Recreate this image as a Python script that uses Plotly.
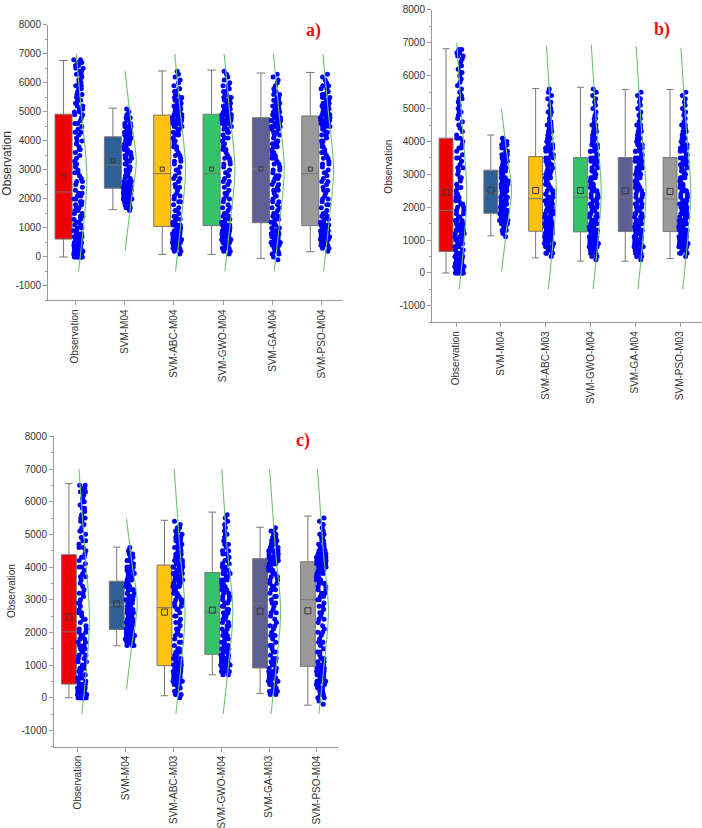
import plotly.graph_objects as go

# ---------------- data ----------------
cats_a = ["Observation", "SVM-M04", "SVM-ABC-M04", "SVM-GWO-M04", "SVM-GA-M04", "SVM-PSO-M04"]
cats_b = ["Observation", "SVM-M04", "SVM-ABC-M03", "SVM-GWO-M04", "SVM-GA-M04", "SVM-PSO-M03"]
cats_c = ["Observation", "SVM-M04", "SVM-ABC-M03", "SVM-GWO-M04", "SVM-GA-M03", "SVM-PSO-M04"]

# box statistics
a_q1 = [615, 2370, 1050, 1080, 1180, 1080]
a_med = [2240, 3165, 2870, 2870, 3040, 2870]
a_q3 = [4920, 4140, 4890, 4920, 4800, 4860]
a_lo = [0, 1630, 90, 90, -50, 180]
a_hi = [6770, 5130, 6410, 6440, 6340, 6360]
a_mean = [2750, 3320, 3030, 3030, 3040, 3030]

b_q1 = [655, 1816, 1270, 1250, 1260, 1260]
b_med = [1905, 2430, 2260, 2300, 2300, 2250]
b_q3 = [4100, 3127, 3540, 3510, 3510, 3510]
b_lo = [0, 1130, 460, 360, 360, 440]
b_hi = [6820, 4196, 5610, 5650, 5580, 5580]
b_mean = [2450, 2520, 2510, 2510, 2500, 2480]

c_q1 = [415, 2087, 980, 1327, 910, 960]
c_med = [2016, 2847, 2755, 2610, 2887, 3000]
c_q3 = [4377, 3566, 4060, 3830, 4255, 4160]
c_lo = [0, 1590, 60, 700, 130, -230]
c_hi = [6555, 4610, 5430, 5680, 5217, 5560]
c_mean = [2470, 2870, 2620, 2680, 2650, 2660]

# individual points, read as counts per 100-unit level starting at -500
BIN0 = -500
BINW = 100
a_pts = [
    "0000086655 4333222222 2222222211 1211211211 1121121121 1211222222 2212222122 233200",
    "0000000000 0000000000 0123578876 5322222233 3333433333 3222211000",
    "0000001234 5665433222 1211212112 1121121121 2112121222 3455554443 3222111111",
    "0000001233 4566543322 2121121211 1211211212 1121212122 2445555443 3222211111",
    "0000112234 5565432222 2121212121 2122121212 2212221222 3344444332 2221111110",
    "0000000123 4566654322 2112121121 1211211212 1212121222 3345555443 3322211110",
]
b_pts = [
    "0000076655 5433333333 3322222222 1211211211 2112112111 1111211121 1111112111 123200",
    "0000000000 0000001123 6787644444 4444433333 3332322000",
    "0000000000 1345665544 4333333333 3232323232 3323232222 2211211111 1100000000",
    "0000000001 2345665544 4333333332 3232323223 3232322222 2121111111 1100000000",
    "0000000001 2355665443 4433333323 2323232323 3232232222 2112111111 1000000000",
    "0000000000 1356665544 4433333322 3232323232 3223232222 2111211111 1000000000",
]
c_pts = [
    "0000098876 3322222222 2222222112 1211211211 1121121121 1212112112 2112121122 200000",
    "0000000000 0000000000 0356776554 3333434343 4343433322 2100000000",
    "0000012234 5555443322 2121212121 2122232323 3434343433 3332322211",
    "0000000000 0024566554 3322222222 2222323232 3333322222 2121121111 1100000000",
    "0000002334 4554322212 1211211211 1211212122 2232335665 4333222100",
    "0001122333 4444432212 1121121112 1212122222 3343445555 4322221111 1000000000",
]

# normal-curve overlays: y levels and relative width
a_curve_y = [[-500, 1100, 2750, 4900, 7000], [200, 1900, 3300, 4800, 6400],
             [-500, 1300, 3030, 5000, 7000], [-500, 1300, 3030, 5000, 7000],
             [-500, 1300, 3040, 5000, 7000], [-500, 1300, 3030, 5000, 7000]]
a_curve_f = [[0.30, 0.72, 1, 0.56, 0.10], [0.06, 0.56, 1, 0.51, 0.06],
             [0.15, 0.63, 1, 0.55, 0.09], [0.15, 0.63, 1, 0.55, 0.09],
             [0.15, 0.63, 1, 0.55, 0.09], [0.15, 0.63, 1, 0.55, 0.09]]
b_curve_y = [[-500, 900, 2450, 4500, 7000], [50, 1300, 2500, 3700, 5000],
             [-500, 1000, 2500, 4500, 6900], [-500, 1000, 2500, 4500, 6950],
             [-500, 1000, 2500, 4500, 6900], [-500, 1000, 2480, 4500, 6850]]
b_curve_f = [[0.30, 0.73, 1, 0.58, 0.07], [0.07, 0.53, 1, 0.53, 0.06],
             [0.25, 0.70, 1, 0.55, 0.08], [0.25, 0.70, 1, 0.55, 0.08],
             [0.25, 0.70, 1, 0.55, 0.08], [0.25, 0.70, 1, 0.55, 0.08]]
c_curve_y = [[-500, 900, 2470, 4500, 7000], [260, 1600, 2870, 4150, 5480],
             [-500, 1000, 2620, 4500, 7000], [-500, 1000, 2680, 4600, 7000],
             [-500, 1000, 2650, 4500, 7000], [-500, 1000, 2660, 4500, 7000]]
c_curve_f = [[0.33, 0.74, 1, 0.60, 0.08], [0.06, 0.52, 1, 0.52, 0.06],
             [0.20, 0.65, 1, 0.56, 0.05], [0.15, 0.62, 1, 0.50, 0.04],
             [0.16, 0.62, 1, 0.55, 0.04], [0.16, 0.62, 1, 0.55, 0.04]]

y_tickvals = [-1000, 0, 1000, 2000, 3000, 4000, 5000, 6000, 7000, 8000]
y_ticktext = ["-1000", "0", "1000", "2000", "3000", "4000", "5000", "6000", "7000", "8000"]
y_minor = [-1500, -500, 500, 1500, 2500, 3500, 4500, 5500, 6500, 7500]

# ---------------- style ----------------
box_colors = ["#ee0000", "#2e6095", "#ffc20e", "#34c36b", "#5d5f95", "#9a9a9a"]
FONT = "Liberation Sans, Arial, sans-serif"
SERIF = "Liberation Serif, Times New Roman, serif"


def expand(s):
    s = s.replace(" ", "")
    vals = []
    for k, ch in enumerate(s):
        vals += [BIN0 + BINW * k] * int(ch, 36)
    return vals


panels = [
    dict(cats=cats_a, q1=a_q1, med=a_med, q3=a_q3, lo=a_lo, hi=a_hi, mean=a_mean,
         pts=a_pts, cy=a_curve_y, cf=a_curve_f, ax="", xr=[-0.548, 5.43],
         xd=[48 / 702, 343 / 702], yd=[1 - 297 / 828, 1 - 19 / 828],
         boff=-0.233, bw=0.345, poff=0.07, pw=0.20, msize=4),
    dict(cats=cats_b, q1=b_q1, med=b_med, q3=b_q3, lo=b_lo, hi=b_hi, mean=b_mean,
         pts=b_pts, cy=b_curve_y, cf=b_curve_f, ax="2", xr=[-0.536, 5.49],
         xd=[432 / 702, 1.0], yd=[1 - 319 / 828, 1 - 4 / 828],
         boff=-0.223, bw=0.31, poff=0.08, pw=0.22, msize=6),
    dict(cats=cats_c, q1=c_q1, med=c_med, q3=c_q3, lo=c_lo, hi=c_hi, mean=c_mean,
         pts=c_pts, cy=c_curve_y, cf=c_curve_f, ax="3", xr=[-0.502, 5.44],
         xd=[54 / 702, 338 / 702], yd=[1 - 747 / 828, 1 - 434 / 828],
         boff=-0.19, bw=0.31, poff=0.09, pw=0.21, msize=6),
]

CURVE_PEAK = 0.24

fig = go.Figure()
layout = dict(width=702, height=828, margin=dict(l=0, r=0, t=0, b=0),
              paper_bgcolor="white", plot_bgcolor="white", showlegend=False,
              boxmode="overlay", font=dict(family=FONT, size=10, color="#333"))

for p in panels:
    xa = "x" + p["ax"]
    ya = "y" + p["ax"]
    for i in range(6):
        # box
        fig.add_trace(go.Box(
            x=[i + p["boff"]], q1=[p["q1"][i]], median=[p["med"][i]], q3=[p["q3"][i]],
            lowerfence=[p["lo"][i]], upperfence=[p["hi"][i]],
            width=p["bw"], whiskerwidth=0.5, fillcolor=box_colors[i],
            line=dict(color="#767676", width=1), boxpoints=False,
            xaxis=xa, yaxis=ya, hoverinfo="skip"))
        # mean marker
        fig.add_trace(go.Scatter(
            x=[i + p["boff"]], y=[p["mean"][i]], mode="markers",
            marker=dict(symbol="square-open", size=p["msize"], color="#3a3a3a",
                        line=dict(width=1)),
            xaxis=xa, yaxis=ya, hoverinfo="skip"))
        # jittered points
        vals = expand(p["pts"][i])
        fig.add_trace(go.Box(
            x=[i + p["poff"]] * len(vals), y=vals, width=p["pw"],
            boxpoints="all", jitter=1, pointpos=0,
            fillcolor="rgba(0,0,0,0)", line=dict(color="rgba(0,0,0,0)", width=0),
            marker=dict(color="#0000ff", size=5, opacity=1),
            xaxis=xa, yaxis=ya, hoverinfo="skip"))
        # normal curve
        fig.add_trace(go.Scatter(
            x=[i + CURVE_PEAK * f for f in p["cf"][i]], y=p["cy"][i],
            mode="lines", line=dict(color="#6cc46c", width=1.1, shape="spline"),
            xaxis=xa, yaxis=ya, hoverinfo="skip"))

    layout["xaxis" + p["ax"]] = dict(
        domain=p["xd"], range=p["xr"], anchor=ya, tickmode="array",
        tickvals=list(range(6)), ticktext=p["cats"], tickangle=-90,
        ticks="outside", ticklen=4, tickcolor="#999", showline=True,
        linecolor="#999", linewidth=1, showgrid=False, zeroline=False,
        tickfont=dict(size=10, color="#333", family=FONT))
    layout["yaxis" + p["ax"]] = dict(
        domain=p["yd"], range=[-1500, 8000], anchor=xa, tickmode="array",
        tickvals=y_tickvals, ticktext=y_ticktext, ticks="outside", ticklen=4,
        tickcolor="#999", showline=True, linecolor="#999", linewidth=1,
        showgrid=False, zeroline=False,
        minor=dict(tickmode="array", tickvals=y_minor, ticks="outside", ticklen=2,
                   tickcolor="#999", showgrid=False),
        tickfont=dict(size=10, color="#333", family=FONT))


def ann(text, x, y, size, color="#333", family=FONT, angle=0):
    return dict(text=text, x=x / 702, y=1 - y / 828, xref="paper", yref="paper",
                xanchor="center", yanchor="middle", textangle=angle, showarrow=False,
                font=dict(size=size, color=color, family=family))


layout["annotations"] = [
    ann("Observation", 7, 159, 12, angle=-90),
    ann("Observation", 389, 162, 10, angle=-90),
    ann("Observation", 11, 590, 10, angle=-90),
    ann("<b>a)</b>", 313, 25, 18, color="#ee1111", family=SERIF),
    ann("<b>b)</b>", 662, 24, 18, color="#ee1111", family=SERIF),
    ann("<b>c)</b>", 303, 438, 18, color="#ee1111", family=SERIF),
]

fig.update_layout(**layout)
fig.write_html("out.html")
